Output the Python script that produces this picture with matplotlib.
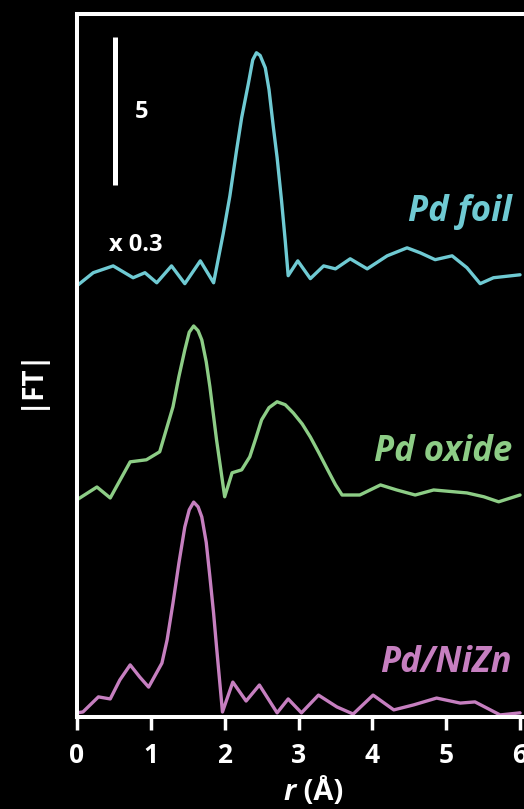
import numpy as np
import matplotlib
matplotlib.use("Agg")
import matplotlib.pyplot as plt

plt.rcParams['font.family'] = ['Open Sans', 'DejaVu Sans']
plt.rcParams['font.weight'] = 'bold'

# r in Angstrom, |FT| (foil already scaled x 0.3)
r_foil = [0, 0.22, 0.49, 0.76, 0.92, 1.08, 1.28, 1.46, 1.67, 1.85, 1.98, 2.07, 2.16, 2.23,
          2.32, 2.38, 2.43, 2.48, 2.55, 2.60, 2.66, 2.71, 2.77, 2.82, 2.86, 2.99, 3.16,
          3.34, 3.50, 3.70, 3.93, 4.20, 4.47, 4.65, 4.85, 5.08, 5.28, 5.46, 5.64, 6.0]
ft_foil = [0.17, 0.61, 0.84, 0.44, 0.61, 0.27, 0.84, 0.24, 1.01, 0.27, 1.93, 3.20, 4.73, 5.85,
           6.99, 7.80, 8.04, 7.95, 7.53, 6.80, 5.51, 4.50, 3.04, 1.69, 0.51, 1.01, 0.41,
           0.84, 0.74, 1.08, 0.74, 1.18, 1.45, 1.28, 1.05, 1.18, 0.78, 0.24, 0.44, 0.54]

r_oxide = [0, 0.27, 0.45, 0.72, 0.94, 1.12, 1.30, 1.38, 1.46, 1.52, 1.58, 1.64, 1.69, 1.75,
           1.80, 1.89, 2.00, 2.10, 2.23, 2.34, 2.42, 2.50, 2.60, 2.71, 2.82, 2.93, 3.05,
           3.16, 3.27, 3.38, 3.50, 3.59, 3.83, 4.11, 4.33, 4.58, 4.83, 5.28, 5.51, 5.71, 6.0]
ft_oxide = [0.14, 0.57, 0.20, 1.42, 1.49, 1.76, 3.28, 4.30, 5.20, 5.80, 6.01, 5.85, 5.54, 4.80,
            3.95, 2.16, 0.24, 1.05, 1.15, 1.59, 2.20, 2.84, 3.25, 3.45, 3.35, 3.07, 2.70,
            2.26, 1.75, 1.22, 0.65, 0.30, 0.30, 0.64, 0.47, 0.30, 0.47, 0.37, 0.24, 0.07, 0.30]

r_nizn = [0, 0.08, 0.29, 0.45, 0.58, 0.72, 0.85, 0.97, 1.15, 1.22, 1.30, 1.38, 1.46, 1.52,
          1.58, 1.64, 1.69, 1.75, 1.80, 1.85, 1.89, 1.97, 2.11, 2.29, 2.47, 2.71, 2.86,
          3.04, 3.27, 3.52, 3.74, 4.01, 4.29, 4.56, 4.87, 5.19, 5.39, 5.73, 6.0]
ft_nizn = [0.14, 0.17, 0.68, 0.61, 1.25, 1.76, 1.35, 1.01, 1.82, 2.60, 3.85, 5.20, 6.42, 7.00,
           7.26, 7.10, 6.76, 5.90, 4.73, 3.50, 2.36, 0.17, 1.18, 0.54, 1.08, 0.14, 0.61,
           0.14, 0.74, 0.34, 0.10, 0.74, 0.24, 0.41, 0.64, 0.47, 0.51, 0.07, 0.14]

names = ["Pd foil", "Pd oxide", "Pd/NiZn"]
offsets = [14.4, 7.2, 0.0]
colors = ["#6fcad3", "#8dcd86", "#c67fc0"]
label_y = [17.06, 8.95, 1.82]

fig = plt.figure(figsize=(5.24, 8.09), dpi=100, facecolor="black")
ax = fig.add_axes([77/524, 1-717/809, 446/524, 703/809], facecolor="black")

curves = [(r_foil, ft_foil), (r_oxide, ft_oxide), (r_nizn, ft_nizn)]
for (r, ft), off, c, name, ly in zip(curves, offsets, colors, names, label_y):
    ax.plot(r, np.array(ft) + off, color=c, lw=2.4, solid_joinstyle="round",
            solid_capstyle="round", clip_on=False)
    ax.text(5.89, ly, name, color=c, fontsize=25, style="italic", fontweight="bold",
            ha="right", va="center")

# scale bar
ax.plot([0.515, 0.515], [17.97, 22.97], color="white", lw=3.6, solid_capstyle="butt")
ax.text(0.78, 20.44, "5", color="white", fontsize=17, fontweight="bold", va="center")
ax.text(0.80, 15.95, "x 0.3", color="white", fontsize=17, fontweight="bold",
        ha="center", va="center")

ax.set_xlim(0, 6.04)
ax.set_ylim(0, 23.75)
ax.set_xticks(range(0, 7))
ax.set_yticks([])
ax.spines["right"].set_visible(False)
for s in ["left", "top", "bottom"]:
    ax.spines[s].set_color("white")
    ax.spines[s].set_linewidth(2.9)
ax.tick_params(axis="x", colors="white", length=9, width=2.5, labelsize=19, pad=9,
               direction="out")
for lab in ax.get_xticklabels():
    lab.set_fontweight("bold")

fig.text(0.565, 0.021, "r", color="white", fontsize=21, fontweight="bold",
         style="italic", ha="right", va="center")
fig.text(0.565, 0.021, " (Å)", color="white", fontsize=21, fontweight="bold",
         ha="left", va="center")
fig.text(30/524, 1-378/809, "|FT|", color="white", fontsize=20, fontweight="bold",
         rotation=90, ha="center", va="center")

fig.savefig("out.png", dpi=100, facecolor="black")
